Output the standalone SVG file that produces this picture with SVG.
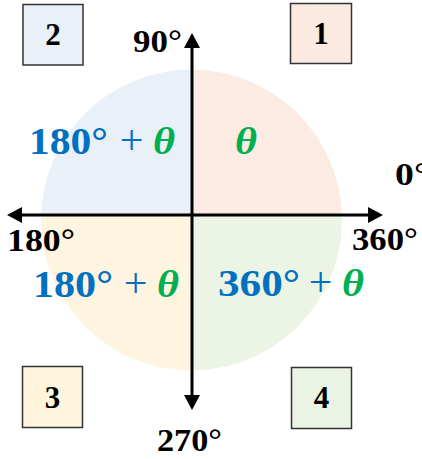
<svg xmlns="http://www.w3.org/2000/svg" width="422" height="459" viewBox="0 0 422 459">
<style>
.box{stroke:#333;stroke-width:1.5}
.num{font-family:"Liberation Serif",serif;font-weight:bold;font-size:31px;fill:#000;text-anchor:middle}
.ax{font-family:"Liberation Serif",serif;font-weight:bold;font-size:31px;fill:#000}
.bl{font-family:"Liberation Serif",serif;font-weight:bold;font-size:38px;fill:#0070C0}
.pl{font-family:"Liberation Serif",serif;font-size:42px;fill:#0070C0;text-anchor:middle}
.th{font-family:"Liberation Serif",serif;font-weight:bold;font-style:italic;font-size:38px;fill:#00B050}
.axis{stroke:#000;stroke-width:3;fill:none}
</style>
<defs>
<clipPath id="circ"><circle cx="191.5" cy="220" r="150.5"/></clipPath>
<marker id="ah" viewBox="0 0 15 16" refX="5" refY="8" markerWidth="15" markerHeight="16" markerUnits="userSpaceOnUse" orient="auto-start-reverse">
<path d="M0,0 L15,8 L0,16 z" fill="#000"/>
</marker>
</defs>
<g id="quadrants" clip-path="url(#circ)">
<rect x="30" y="60" width="162" height="155" fill="#E9F0F8"/>
<rect x="192" y="60" width="160" height="155" fill="#FCEBE2"/>
<rect x="30" y="215" width="162" height="160" fill="#FFF4DF"/>
<rect x="192" y="215" width="160" height="160" fill="#ECF4E5"/>
</g>
<g id="connectors">
<line class="axis" x1="192" y1="215" x2="192" y2="43" marker-end="url(#ah)"/>
<line class="axis" x1="192" y1="215" x2="192" y2="400" marker-end="url(#ah)"/>
<line class="axis" x1="17" y1="215" x2="373" y2="215" marker-start="url(#ah)" marker-end="url(#ah)"/>
</g>
<g id="box1"><rect class="box" x="290.5" y="3.5" width="61" height="60" fill="#FBEAE1"/><text class="num" x="321" y="44">1</text></g>
<g id="box2"><rect class="box" x="23" y="4.5" width="60" height="60.5" fill="#E9F0F8"/><text class="num" x="53" y="45">2</text></g>
<g id="box3"><rect class="box" x="22.5" y="366.5" width="60" height="61" fill="#FFF4DC"/><text class="num" x="52.5" y="408">3</text></g>
<g id="box4"><rect class="box" x="291.5" y="367.5" width="60" height="61" fill="#EBF3E4"/><text class="num" x="321.5" y="408">4</text></g>
<g id="labels">
<text class="ax" x="133" y="52" textLength="49" lengthAdjust="spacingAndGlyphs">90°</text>
<text class="ax" x="395" y="185" textLength="34" lengthAdjust="spacingAndGlyphs">0°</text>
<text class="ax" x="352" y="250" textLength="66" lengthAdjust="spacingAndGlyphs">360°</text>
<text class="ax" x="7" y="251" textLength="68" lengthAdjust="spacingAndGlyphs">180°</text>
<text class="ax" x="157" y="451" textLength="65" lengthAdjust="spacingAndGlyphs">270°</text>
</g>
<g id="q2label">
<text class="bl" x="29" y="154" textLength="79" lengthAdjust="spacingAndGlyphs">180°</text>
<text class="pl" x="131.5" y="154">+</text>
<text class="th" x="153" y="154" textLength="22" lengthAdjust="spacingAndGlyphs">θ</text>
</g>
<g id="q1label">
<text class="th" x="235" y="154" textLength="22" lengthAdjust="spacingAndGlyphs">θ</text>
</g>
<g id="q3label">
<text class="bl" x="33" y="297" textLength="80" lengthAdjust="spacingAndGlyphs">180°</text>
<text class="pl" x="135.5" y="297">+</text>
<text class="th" x="157" y="297" textLength="22" lengthAdjust="spacingAndGlyphs">θ</text>
</g>
<g id="q4label">
<text class="bl" x="218" y="296" textLength="82" lengthAdjust="spacingAndGlyphs">360°</text>
<text class="pl" x="320.5" y="296">+</text>
<text class="th" x="342" y="296" textLength="22" lengthAdjust="spacingAndGlyphs">θ</text>
</g>
</svg>
